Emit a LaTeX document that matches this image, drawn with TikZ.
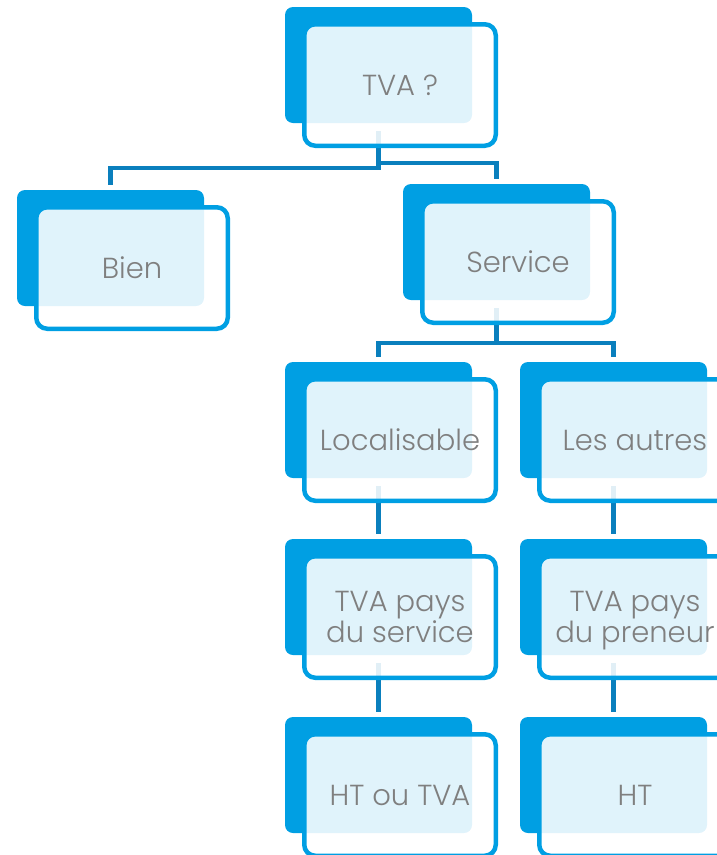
\documentclass[tikz,border=0pt]{standalone}
\usepackage{fontspec}
\setmainfont{Poppins}[UprightFont={* Light}]
\usetikzlibrary{calc}
\pgfdeclarelayer{bg}
\pgfsetlayers{bg,main}
\definecolor{boxblue}{HTML}{009FE3}
\definecolor{connblue}{HTML}{0A7FBD}
\definecolor{txtgray}{HTML}{7F7F7F}
\tikzset{
  backbox/.style={fill=boxblue, rounded corners=8pt, minimum width=187pt, minimum height=116pt,
    inner sep=0pt, outer sep=0pt, anchor=north west},
  frontbox/.style={draw=boxblue, line width=4.5pt, fill=white, fill opacity=0.88, text opacity=1,
    rounded corners=11pt, minimum width=191.5pt, minimum height=121.5pt, inner sep=0pt,
    outer sep=0pt, anchor=north west, align=center, text=txtgray,
    font=\fontsize{29}{31}\selectfont},
  conn/.style={draw=connblue, line width=4.5pt},
}
\newcommand\smartbox[4]{%
  \node[backbox] (#1b) at (#2,#3) {};
  \node[frontbox] (#1) at (#2+19.25,#3+17.25) {#4};
}
\begin{document}
\begin{tikzpicture}[x=1pt,y=-1pt]
\useasboundingbox (0,0) rectangle (717,855);
\clip (0,0) rectangle (717,855);
\smartbox{tva}{285}{7}{TVA~?}
\smartbox{bien}{17}{190}{Bien}
\smartbox{serv}{403}{184}{Service}
\smartbox{loc}{285}{362}{Localisable}
\smartbox{autres}{520}{362}{Les autres}
\smartbox{paysA}{285}{539}{TVA pays\\du service}
\smartbox{paysB}{520}{539}{TVA pays\\du \smash{p}reneur}
\smartbox{htA}{285}{717}{HT ou TVA}
\smartbox{htB}{520}{717}{HT}
\begin{pgfonlayer}{bg}
\draw[conn] ($(tvab.south)+(0,8)$) |- ($(bienb.north)+(0,-22)$) -- ($(bienb.north)+(0,-5)$);
\draw[conn] ($(tvab.south)+(0,8)$) |- ($(servb.north)+(0,-21)$) -- ($(servb.north)+(0,-5)$);
\draw[conn] ($(servb.south)+(0,8)$) |- ($(locb.north)+(0,-19)$) -- ($(locb.north)+(0,-5)$);
\draw[conn] ($(servb.south)+(0,8)$) |- ($(autresb.north)+(0,-19)$) -- ($(autresb.north)+(0,-5)$);
\draw[conn] ($(locb.south)+(0,8)$) -- ($(paysAb.north)+(0,-5)$);
\draw[conn] ($(autresb.south)+(0,8)$) -- ($(paysBb.north)+(0,-5)$);
\draw[conn] ($(paysAb.south)+(0,8)$) -- ($(htAb.north)+(0,-5)$);
\draw[conn] ($(paysBb.south)+(0,8)$) -- ($(htBb.north)+(0,-5)$);
\end{pgfonlayer}
\end{tikzpicture}
\end{document}
